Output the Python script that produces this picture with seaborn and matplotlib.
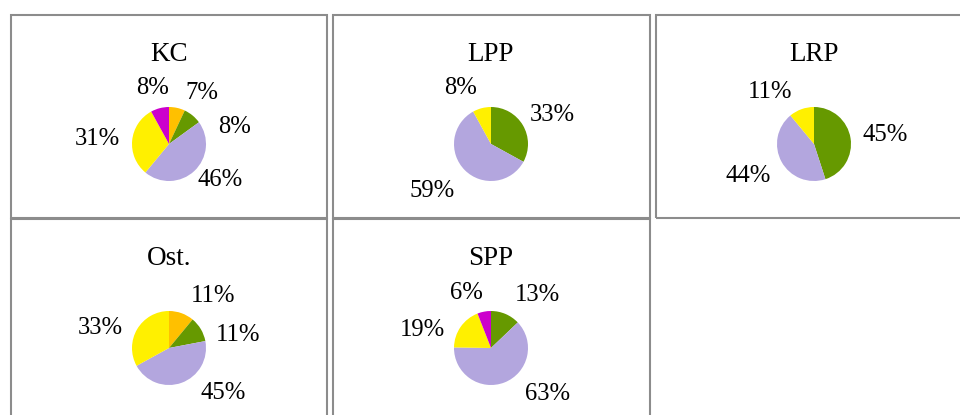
import matplotlib
matplotlib.use("Agg")
import matplotlib.pyplot as plt
import seaborn as sns
import numpy as np
from matplotlib.patches import Rectangle

sns.set_theme(style="white")
plt.rcParams['font.family'] = ['Liberation Serif', 'DejaVu Serif']

# ---- data ----
groups = ["KC", "LPP", "LRP", "Ost.", "SPP"]
segments = ["seg1", "seg2", "seg3", "seg4", "seg5"]
kc_values = [7, 8, 46, 31, 8]
lpp_values = [0, 33, 59, 8, 0]
lrp_values = [0, 45, 44, 11, 0]
ost_values = [11, 11, 45, 33, 0]
spp_values = [0, 13, 63, 19, 6]
all_values = [kc_values, lpp_values, lrp_values, ost_values, spp_values]

palette = sns.color_palette(["#FFC000", "#669900", "#B3A6DE", "#FFF000", "#CC00CC"])

# ---- layout (pixels, image coords y-down) ----
W, H = 960, 415
box_left = [11, 333, 656, 11, 333]
box_top = [15, 15, 15, 219, 219]
box_w = [316, 317, 318, 316, 317]
box_h = 203
radius = 37
gap = 12
# manual label nudges (dx, dy) in image pixels, mimicking the original label placement
nudges = {
    ("KC", 0): (19, 5), ("KC", 1): (24, 27), ("KC", 2): (2, -6),
    ("LPP", 3): (-14, 0), ("LPP", 2): (-8, 6),
    ("LRP", 3): (-20, 2), ("LRP", 2): (-3, 4),
    ("Ost.", 0): (20, 2), ("Ost.", 1): (8, 16), ("Ost.", 2): (30, -9), ("Ost.", 3): (-7, 9),
    ("SPP", 1): (18, 0), ("SPP", 2): (30, -8), ("SPP", 3): (-10, 15), ("SPP", 4): (-12, 2),
}

fig = plt.figure(figsize=(W / 100, H / 100), dpi=100)
ax = fig.add_axes([0, 0, 1, 1])

def Y(y):
    return H - y

labels_to_place = []
for i, g in enumerate(groups):
    vals = all_values[i]
    L, T = box_left[i], box_top[i]
    ax.add_patch(Rectangle((L, Y(T + box_h)), box_w[i], box_h, fill=False,
                           edgecolor="#8C8C8C", linewidth=1.5))
    cx, cy = L + 158, T + 129
    idx = [k for k, v in enumerate(vals) if v > 0]
    v_nz = [vals[k] for k in idx]
    cols = [palette[k] for k in idx]
    ax.pie(v_nz, colors=cols, startangle=90, counterclock=False, radius=radius,
           center=(cx, Y(cy)), frame=True, wedgeprops=dict(linewidth=0))
    ax.text(cx, Y(T + 46), g, ha="center", va="baseline", fontsize=19.5, color="black")
    total = float(sum(v_nz))
    cum = 0.0
    for k, v in zip(idx, v_nz):
        theta = np.deg2rad((cum + v / 2.0) / total * 360.0)
        cum += v
        ux, uy = np.sin(theta), np.cos(theta)
        t = ax.text(0, 0, f"{v}%", ha="center", va="center", fontsize=17.7, color="black")
        labels_to_place.append((t, cx, cy, ux, uy, nudges.get((g, k), (0, 0))))

ax.set_xlim(0, W)
ax.set_ylim(0, H)
ax.set_aspect("auto")
ax.set_axis_off()

fig.canvas.draw()
renderer = fig.canvas.get_renderer()
for t, cx, cy, ux, uy, (ndx, ndy) in labels_to_place:
    bb = t.get_window_extent(renderer)
    w = bb.width
    hh = 8.5
    px = cx + (radius + gap) * ux + w / 2 * ux + ndx
    py = cy - (radius + gap) * uy - hh * uy + ndy
    t.set_position((px, Y(py)))

fig.savefig("out.png", dpi=100)
